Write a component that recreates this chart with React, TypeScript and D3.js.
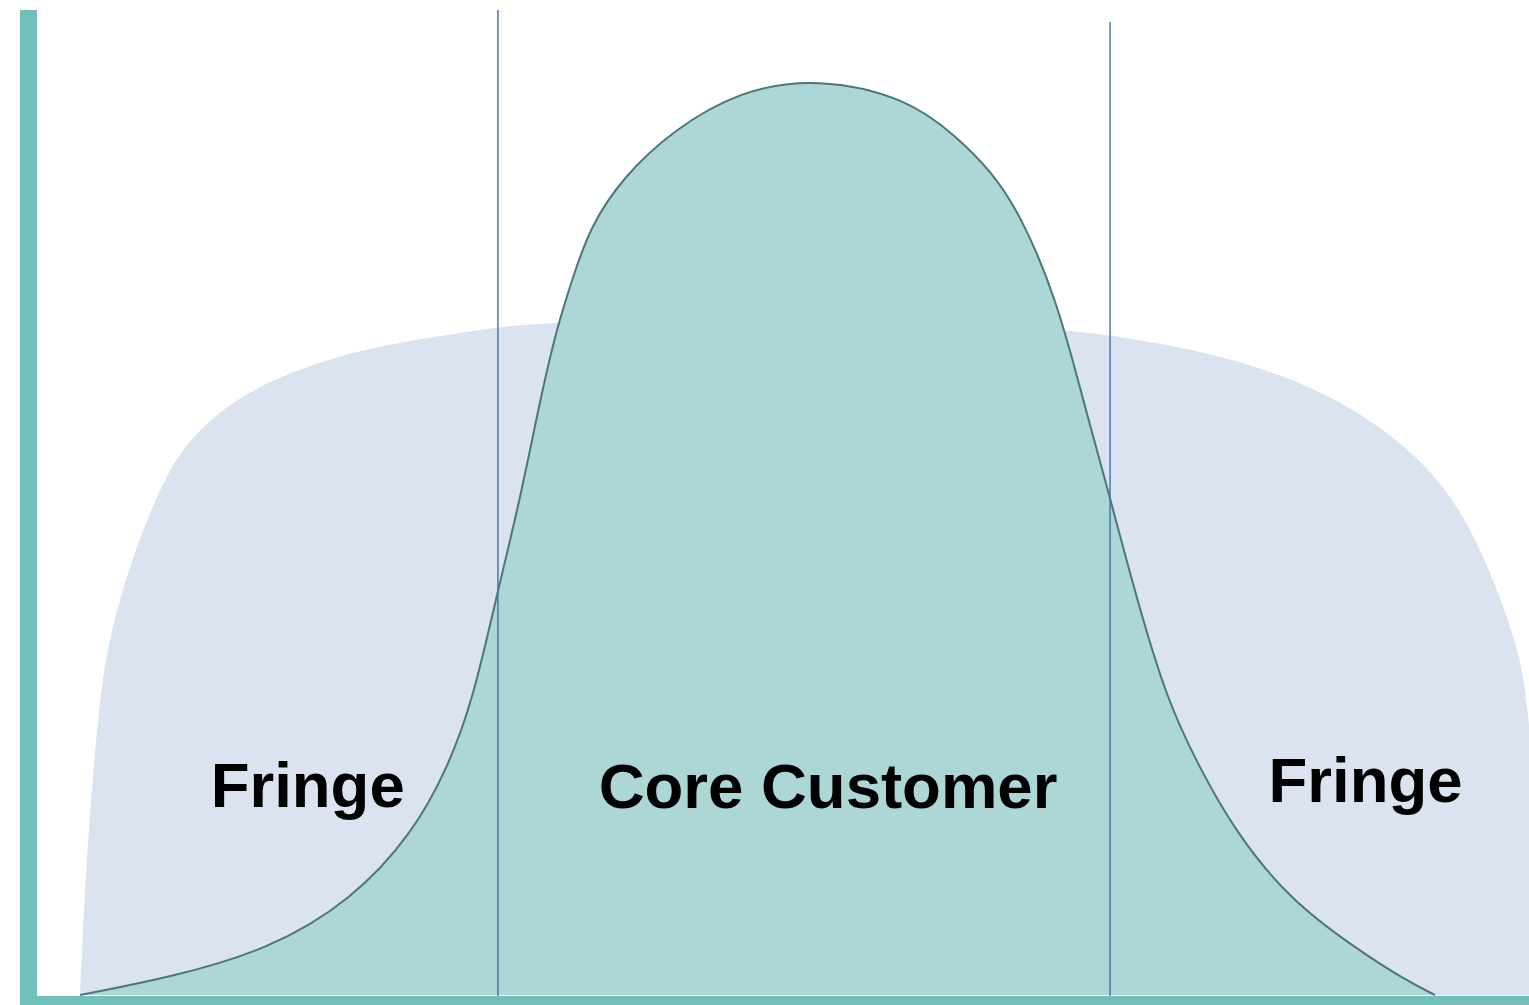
import React, { useRef, useEffect } from 'react'
import * as d3 from 'd3'

// Bell curve of the core customer (x: attribute, y: share)
const coreX = [2.95, 9.11, 15.54, 21.17, 25.25, 27.6, 29.27, 30.94, 32.42, 33.76, 34.9, 35.97, 37.11, 39.32, 42.67, 47.15, 52.31, 58.34, 61.69, 63.9, 65.91, 68.39, 70.13, 71.8, 73.74, 75.75, 77.9, 80.38, 83.99, 88.55, 91.7, 93.7]
const coreY = [0, 1.98, 4.95, 10.44, 17.8, 25.05, 32.42, 44.51, 54.4, 65.38, 73.41, 78.9, 84.4, 89.89, 95.05, 99.4, 100.8, 98.6, 94.29, 90.66, 85.93, 76.37, 65.38, 55.49, 43.41, 32.42, 25.05, 17.8, 10.44, 4.95, 1.65, 0]

// Wide flat-topped curve (whole market)
const marketX = [2.95, 3.15, 3.35, 4.2, 5.0, 6.3, 7.6, 9.1, 11.3, 14.7, 19.3, 23.91, 30.94, 33.76, 50.5, 69.06, 71.94, 79.1, 85.9, 90.5, 93.8, 96.0, 97.7, 99.3, 99.9, 100.74, 101.07]
const marketY = [0, 7.14, 14.07, 32.42, 39.9, 47.3, 52.9, 58.5, 62.9, 66.9, 69.8, 71.65, 73.41, 73.85, 74.95, 73.08, 72.53, 70.55, 66.7, 62.0, 57.1, 51.6, 45.4, 38.0, 32.42, 15.93, 0]

// Segment boundaries and their top ends
const boundaries = [30.94, 71.94]
const boundaryTops = [108.24, 106.92]

// Labels
const labels = ['Fringe', 'Core Customer', 'Fringe']
const labelX = [18.2, 53.05, 89.05]
const labelY = [20.66, 20.55, 21.21]

const App = () => {
	const svgRef = useRef(null)

	useEffect(() => {
		const svg = d3.select(svgRef.current)
		svg.selectAll('*').remove()

		const width = 1529
		const height = 1005

		svg.attr('width', width).attr('height', height)

		const x = d3.scaleLinear().domain([0, 100]).range([36, 1529])
		const y = d3.scaleLinear().domain([0, 100]).range([995, 85])

		const market = marketX.map((d, i) => [d, marketY[i]])
		const core = coreX.map((d, i) => [d, coreY[i]])

		const curve = d3.curveBasis

		const area = d3
			.area()
			.x(d => x(d[0]))
			.y0(y(0))
			.y1(d => y(d[1]))
			.curve(curve)

		const line = d3
			.line()
			.x(d => x(d[0]))
			.y(d => y(d[1]))
			.curve(curve)

		// market shape
		svg.append('path').datum(market).attr('d', area).attr('fill', '#dae3ef')

		// core bell
		svg.append('path').datum(core).attr('d', area).attr('fill', '#acd7d6')
		svg
			.append('path')
			.datum(core)
			.attr('d', line)
			.attr('fill', 'none')
			.attr('stroke', '#4d7677')
			.attr('stroke-width', 2)

		// boundaries
		svg
			.selectAll('.boundary')
			.data(boundaries)
			.enter()
			.append('line')
			.attr('class', 'boundary')
			.attr('x1', d => x(d))
			.attr('x2', d => x(d))
			.attr('y1', (d, i) => y(boundaryTops[i]))
			.attr('y2', 999)
			.attr('stroke', '#4a76ae')
			.attr('stroke-width', 1.5)

		// axes
		svg.append('rect').attr('x', 20).attr('y', 10).attr('width', 17).attr('height', 995).attr('fill', '#72bfbb')
		svg.append('rect').attr('x', 20).attr('y', 996).attr('width', width - 20).attr('height', 9).attr('fill', '#72bfbb')

		// labels
		svg
			.selectAll('.label')
			.data(labels)
			.enter()
			.append('text')
			.attr('class', 'label')
			.attr('x', (d, i) => x(labelX[i]))
			.attr('y', (d, i) => y(labelY[i]))
			.attr('text-anchor', 'middle')
			.attr('font-family', '"Liberation Sans", Arial, sans-serif')
			.attr('font-weight', 'bold')
			.attr('font-size', 63.5)
			.attr('fill', '#000')
			.text(d => d)
	}, [])

	return <svg ref={svgRef} style={{ position: 'absolute', left: 0, top: 0, display: 'block' }}></svg>
}

export default App
